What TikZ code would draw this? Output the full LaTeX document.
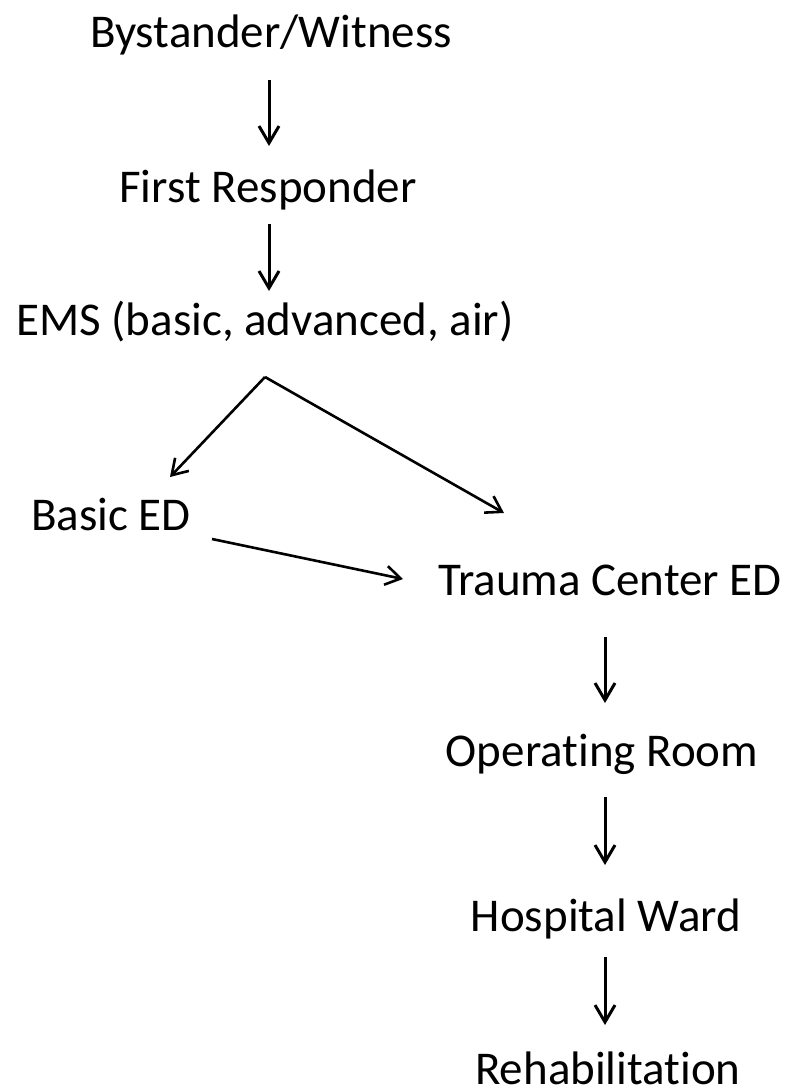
\documentclass[tikz,border=0pt]{standalone}
\usepackage{fontspec}
\setmainfont{Carlito}[Ligatures=NoCommon]
\usetikzlibrary{arrows.meta,calc}
\begin{document}
\begin{tikzpicture}[x=1pt,y=-1pt,
  lbl/.style={anchor=base,inner sep=0pt,font=\fontsize{47}{56}\selectfont},
  flow/.style={line width=3pt,-{Straight Barb[length=17pt,width=20pt,line width=3pt]}},
  dflow/.style={line width=2.6pt,-{Straight Barb[length=15pt,width=19pt,line width=2.6pt]}}]
\useasboundingbox (0,0) rectangle (788,1091);
\node[lbl] (bw) at (271,48) {Bystander/Witness};
\node[lbl] (fr) at (268,203) {First Responder};
\node[lbl] (ems) at (265,335) {EMS (basic, advanced, air)};
\node[lbl] (bed) at (111,530) {Basic ED};
\node[lbl] (tc) at (610,595) {Trauma Center ED};
\node[lbl] (or) at (602,766) {Operating Room};
\node[lbl] (hw) at (606,931) {Hospital Ward};
\node[lbl] (rh) at (608,1084) {Rehabilitation};
\draw[flow] ($(bw.base)+(-2,32)$) -- ($(fr.base)+(1,-57)$);
\draw[flow] ($(fr.base)+(1,21)$) -- ($(ems.base)+(4,-44)$);
\draw[dflow] ($(ems.base)+(0,42)$) -- ($(bed.base)+(59,-53)$);
\draw[dflow] ($(ems.base)+(0,42)$) -- ($(tc.base)+(-106,-82)$);
\draw[dflow] ($(bed.base)+(101,9)$) -- ($(tc.base)+(-207,-16)$);
\draw[flow] ($(tc.base)+(-5,42)$) -- ($(or.base)+(3,-63)$);
\draw[flow] ($(or.base)+(3,31)$) -- ($(hw.base)+(-1,-66)$);
\draw[flow] ($(hw.base)+(-1,26)$) -- ($(rh.base)+(-3,-59)$);
\end{tikzpicture}
\end{document}
